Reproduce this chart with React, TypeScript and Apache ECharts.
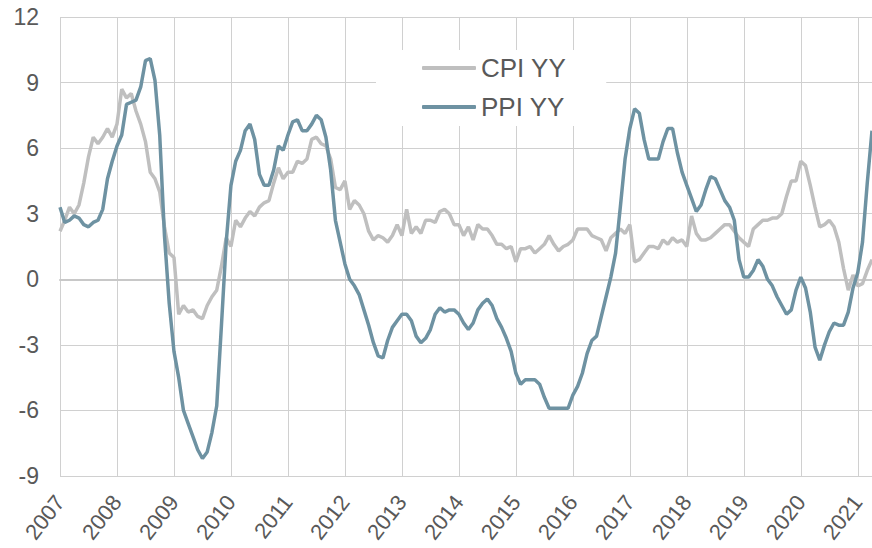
import React, { useEffect, useRef } from "react";
import * as echarts from "echarts";

const cpi2007 = [2.2, 2.7, 3.3, 3.0, 3.4, 4.4, 5.6, 6.5, 6.2, 6.5, 6.9, 6.5];
const cpi2008 = [7.1, 8.7, 8.3, 8.5, 7.7, 7.1, 6.3, 4.9, 4.6, 4.0, 2.4, 1.2];
const cpi2009 = [1.0, -1.6, -1.2, -1.5, -1.4, -1.7, -1.8, -1.2, -0.8, -0.5, 0.6, 1.9];
const cpi2010 = [1.5, 2.7, 2.4, 2.8, 3.1, 2.9, 3.3, 3.5, 3.6, 4.4, 5.1, 4.6];
const cpi2011 = [4.9, 4.9, 5.4, 5.3, 5.5, 6.4, 6.5, 6.2, 6.1, 5.5, 4.2, 4.1];
const cpi2012 = [4.5, 3.2, 3.6, 3.4, 3.0, 2.2, 1.8, 2.0, 1.9, 1.7, 2.0, 2.5];
const cpi2013 = [2.0, 3.2, 2.1, 2.4, 2.1, 2.7, 2.7, 2.6, 3.1, 3.2, 3.0, 2.5];
const cpi2014 = [2.5, 2.0, 2.4, 1.8, 2.5, 2.3, 2.3, 2.0, 1.6, 1.6, 1.4, 1.5];
const cpi2015 = [0.8, 1.4, 1.4, 1.5, 1.2, 1.4, 1.6, 2.0, 1.6, 1.3, 1.5, 1.6];
const cpi2016 = [1.8, 2.3, 2.3, 2.3, 2.0, 1.9, 1.8, 1.3, 1.9, 2.1, 2.3, 2.1];
const cpi2017 = [2.5, 0.8, 0.9, 1.2, 1.5, 1.5, 1.4, 1.8, 1.6, 1.9, 1.7, 1.8];
const cpi2018 = [1.5, 2.9, 2.1, 1.8, 1.8, 1.9, 2.1, 2.3, 2.5, 2.5, 2.2, 1.9];
const cpi2019 = [1.7, 1.5, 2.3, 2.5, 2.7, 2.7, 2.8, 2.8, 3.0, 3.8, 4.5, 4.5];
const cpi2020 = [5.4, 5.2, 4.3, 3.3, 2.4, 2.5, 2.7, 2.4, 1.7, 0.5, -0.5, 0.2];
const cpi2021 = [-0.3, -0.2, 0.4, 0.9];

const ppi2007 = [3.3, 2.6, 2.7, 2.9, 2.8, 2.5, 2.4, 2.6, 2.7, 3.2, 4.6, 5.4];
const ppi2008 = [6.1, 6.6, 8.0, 8.1, 8.2, 8.8, 10.0, 10.1, 9.1, 6.6, 2.0, -1.1];
const ppi2009 = [-3.3, -4.5, -6.0, -6.6, -7.2, -7.8, -8.2, -7.9, -7.0, -5.8, -2.1, 1.7];
const ppi2010 = [4.3, 5.4, 5.9, 6.8, 7.1, 6.4, 4.8, 4.3, 4.3, 5.0, 6.1, 5.9];
const ppi2011 = [6.6, 7.2, 7.3, 6.8, 6.8, 7.1, 7.5, 7.3, 6.5, 5.0, 2.7, 1.7];
const ppi2012 = [0.7, 0.0, -0.3, -0.7, -1.4, -2.1, -2.9, -3.5, -3.6, -2.8, -2.2, -1.9];
const ppi2013 = [-1.6, -1.6, -1.9, -2.6, -2.9, -2.7, -2.3, -1.6, -1.3, -1.5, -1.4, -1.4];
const ppi2014 = [-1.6, -2.0, -2.3, -2.0, -1.4, -1.1, -0.9, -1.2, -1.8, -2.2, -2.7, -3.3];
const ppi2015 = [-4.3, -4.8, -4.6, -4.6, -4.6, -4.8, -5.4, -5.9, -5.9, -5.9, -5.9, -5.9];
const ppi2016 = [-5.3, -4.9, -4.3, -3.4, -2.8, -2.6, -1.7, -0.8, 0.1, 1.2, 3.3, 5.5];
const ppi2017 = [6.9, 7.8, 7.6, 6.4, 5.5, 5.5, 5.5, 6.3, 6.9, 6.9, 5.8, 4.9];
const ppi2018 = [4.3, 3.7, 3.1, 3.4, 4.1, 4.7, 4.6, 4.1, 3.6, 3.3, 2.7, 0.9];
const ppi2019 = [0.1, 0.1, 0.4, 0.9, 0.6, 0.0, -0.3, -0.8, -1.2, -1.6, -1.4, -0.5];
const ppi2020 = [0.1, -0.4, -1.5, -3.1, -3.7, -3.0, -2.4, -2.0, -2.1, -2.1, -1.5, -0.4];
const ppi2021 = [0.3, 1.7, 4.4, 6.8];

const cpiValues = [
  ...cpi2007, ...cpi2008, ...cpi2009, ...cpi2010, ...cpi2011, ...cpi2012, ...cpi2013,
  ...cpi2014, ...cpi2015, ...cpi2016, ...cpi2017, ...cpi2018, ...cpi2019, ...cpi2020, ...cpi2021,
];
const ppiValues = [
  ...ppi2007, ...ppi2008, ...ppi2009, ...ppi2010, ...ppi2011, ...ppi2012, ...ppi2013,
  ...ppi2014, ...ppi2015, ...ppi2016, ...ppi2017, ...ppi2018, ...ppi2019, ...ppi2020, ...ppi2021,
];

const startYear = 2007;
const months: string[] = cpiValues.map((_, i) => {
  const y = startYear + Math.floor(i / 12);
  const m = (i % 12) + 1;
  return `${y}-${m < 10 ? "0" + m : m}`;
});

const seriesNames = ["CPI YY", "PPI YY"];
const yTicks = { min: -9, max: 12, interval: 3 };

export default function App() {
  const ref = useRef<HTMLDivElement>(null);
  useEffect(() => {
    if (!ref.current) return;
    const chart = echarts.init(ref.current, undefined, { renderer: "svg" });
    const font = "'Liberation Sans', Arial, sans-serif";
    chart.setOption({
      animation: false,
      backgroundColor: "#ffffff",
      textStyle: { fontFamily: font },
      grid: { left: 60, right: 0, top: 17, bottom: 72, containLabel: false },
      legend: {
        data: seriesNames,
        orient: "vertical",
        left: 376,
        top: 50,
        backgroundColor: "#ffffff",
        padding: [5, 40, 6, 46],
        icon: "roundRect",
        itemWidth: 54,
        itemHeight: 4,
        itemGap: 13,
        textStyle: { fontSize: 26, color: "#595959", fontFamily: font },
      },
      xAxis: {
        type: "category",
        data: months,
        boundaryGap: false,
        axisTick: { show: false },
        axisLine: { show: true, lineStyle: { color: "#c8c8c8", width: 2 } },
        splitLine: {
          show: true,
          interval: (index: number) => index % 12 === 0,
          lineStyle: { color: "#d0d0d0", width: 1 },
        },
        axisLabel: {
          interval: (index: number) => index % 12 === 0,
          formatter: (v: string) => v.slice(0, 4),
          rotate: 52,
          fontSize: 22,
          color: "#595959",
          margin: 22,
          fontFamily: font,
        },
      },
      yAxis: {
        type: "value",
        min: yTicks.min,
        max: yTicks.max,
        interval: yTicks.interval,
        axisLine: { show: false },
        axisTick: { show: false },
        splitLine: {
          show: true,
          lineStyle: {
            color: ["#d0d0d0", "#d0d0d0", "#d0d0d0", "#c00000", "#d0d0d0", "#d0d0d0", "#d0d0d0", "#d0d0d0"],
            width: 1,
          },
        },
        axisLabel: { fontSize: 23, color: "#595959", margin: 21, fontFamily: font },
      },
      series: [
        {
          name: seriesNames[0],
          type: "line",
          data: cpiValues,
          symbol: "none",
          lineStyle: { color: "#bfbfbf", width: 3.5 },
          itemStyle: { color: "#bfbfbf" },
        },
        {
          name: seriesNames[1],
          type: "line",
          data: ppiValues,
          symbol: "none",
          lineStyle: { color: "#6e92a2", width: 3.5 },
          itemStyle: { color: "#6e92a2" },
        },
      ],
    });
    return () => chart.dispose();
  }, []);
  return (
    <div
      ref={ref}
      style={{ position: "fixed", left: 0, top: 0, width: 872, height: 548 }}
    />
  );
}
